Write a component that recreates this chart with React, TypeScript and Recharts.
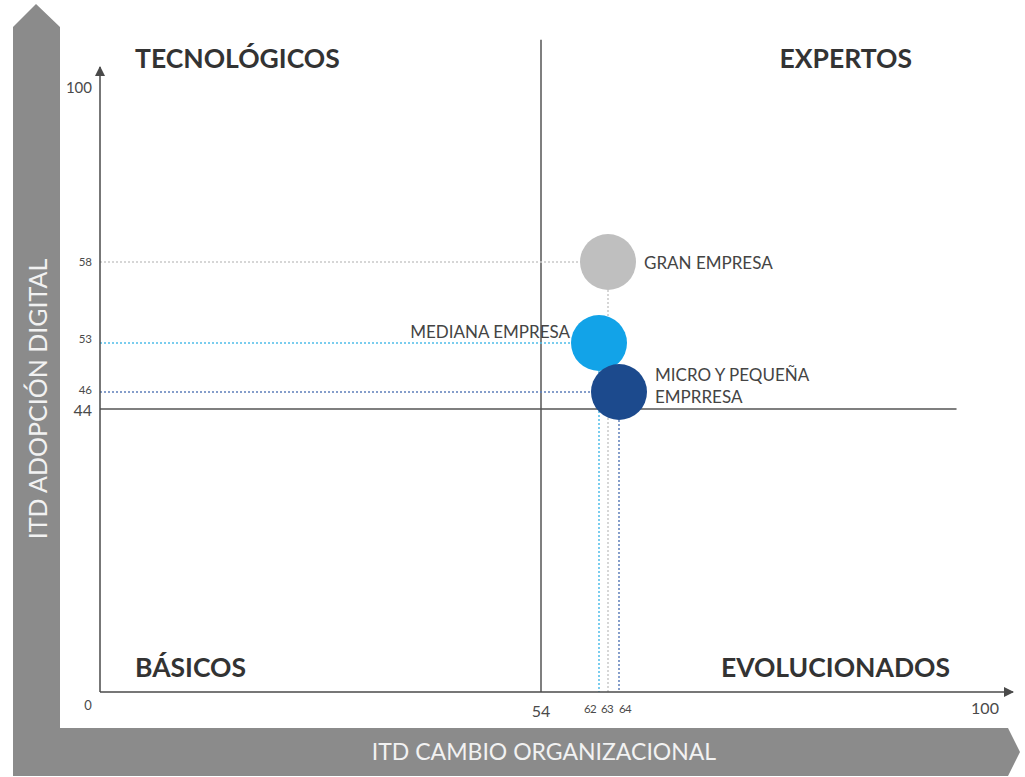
import React from 'react';
import { ScatterChart, Scatter, XAxis, YAxis, ReferenceLine } from 'recharts';

// company segments
const segmentLabels = [['GRAN EMPRESA'], ['MEDIANA EMPRESA'], ['MICRO Y PEQUEÑA', 'EMPRRESA']];
const cambioOrganizacional = [63, 62, 64];
const adopcionDigital = [58, 53, 46];

// axis ticks and quadrant cut-offs
const xTicks = [0, 54, 62, 63, 64, 100];
const yTicks = [44, 46, 53, 58, 100];
const xCut = 54;
const yCut = 44;

const bubbleColors = ['#bfbfbf', '#12a3e8', '#1c4a8d'];
const guideColors = ['#c9c9c9', '#4fbde9', '#5d7fbb'];
const labelSide = ['right', 'left', 'right'];

// the original is a hand-drawn schematic, so the axes are not linear:
// calibration of axis values to pixel positions
const X_KNOTS = [0, 54, 62, 63, 64, 100, 103];
const X_PX = [100, 541, 599, 608, 619, 985, 1013];
const Y_KNOTS = [0, 44, 46, 53, 58, 100, 105];
const Y_PX = [692, 409, 392, 343, 262, 88, 67];

const FONT = 'Lato, "Open Sans", sans-serif';

function piecewiseScale(knots: number[], stops: number[]): any {
  let dom = [knots[0], knots[knots.length - 1]];
  let rng = [0, 1];
  const frac = (v: number) => {
    const n = knots.length;
    let i = 0;
    if (v >= knots[n - 1]) i = n - 2;
    else while (i < n - 2 && v > knots[i + 1]) i++;
    const t = (v - knots[i]) / (knots[i + 1] - knots[i]);
    return stops[i] + t * (stops[i + 1] - stops[i]);
  };
  const scale: any = (v: any) => rng[0] + frac(Number(v)) * (rng[1] - rng[0]);
  scale.domain = (d?: any[]) => {
    if (d === undefined) return dom.slice();
    dom = d.map(Number);
    return scale;
  };
  scale.range = (r?: any[]) => {
    if (r === undefined) return rng.slice();
    rng = r.map(Number);
    return scale;
  };
  scale.copy = () => piecewiseScale(knots, stops).domain(dom).range(rng);
  scale.ticks = () => knots.slice();
  scale.tickFormat = () => (v: any) => String(v);
  scale.nice = () => scale;
  scale.clamp = () => scale;
  return scale;
}

const xScale = piecewiseScale(
  X_KNOTS,
  X_PX.map((p) => (p - X_PX[0]) / (X_PX[X_PX.length - 1] - X_PX[0]))
);
const yScale = piecewiseScale(
  Y_KNOTS,
  Y_PX.map((p) => (Y_PX[0] - p) / (Y_PX[0] - Y_PX[Y_PX.length - 1]))
);

const points = segmentLabels.map((lines, i) => ({
  idx: i,
  lines,
  x: cambioOrganizacional[i],
  y: adopcionDigital[i],
}));

const xTickStyle: Record<number, { size: number; dx: number; dy: number }> = {
  0: { size: 13, dx: -12, dy: 1 },
  54: { size: 16, dx: 0, dy: 6 },
  62: { size: 11.5, dx: -9, dy: 5 },
  63: { size: 11.5, dx: -1, dy: 5 },
  64: { size: 11.5, dx: 6, dy: 5 },
  100: { size: 16, dx: 0, dy: 3 },
};

const yTickStyle: Record<number, { size: number; dy: number }> = {
  44: { size: 16, dy: 1 },
  46: { size: 11.5, dy: -2 },
  53: { size: 11.5, dy: -4 },
  58: { size: 11.5, dy: 0 },
  100: { size: 15, dy: 0 },
};

const XTick = (props: any) => {
  const { x, y, payload } = props;
  const st = xTickStyle[payload.value] || { size: 13, dx: 0, dy: 0 };
  return (
    <text x={x + st.dx} y={y + st.dy} dy="0.71em" textAnchor="middle" fill="#4a4a4a" fontSize={st.size}
      fontFamily={FONT} letterSpacing={st.size < 12 ? -0.6 : 0}>
      {payload.value}
    </text>
  );
};

const YTick = (props: any) => {
  const { x, y, payload } = props;
  const st = yTickStyle[payload.value] || { size: 12, dy: 0 };
  return (
    <text x={x} y={y + st.dy} dy="0.355em" textAnchor="end" fill="#4a4a4a" fontSize={st.size} fontFamily={FONT}>
      {payload.value}
    </text>
  );
};

const Bubble = (props: any) => {
  const { cx, cy, payload } = props;
  const i = payload.idx;
  const r = 28;
  const right = labelSide[i] === 'right';
  const lines: string[] = payload.lines;
  const startY = lines.length > 1 ? cy - 17 : right ? cy + 1 : cy - 11;
  return (
    <g>
      <circle cx={cx} cy={cy} r={r} fill={bubbleColors[i]} />
      {lines.map((t, k) => (
        <text key={k} x={right ? cx + 36 : cx - 29} y={startY + k * 22} dy="0.35em"
          textAnchor={right ? 'start' : 'end'} fill="#444" fontSize={17} fontFamily={FONT}>
          {t}
        </text>
      ))}
    </g>
  );
};

export default function App() {
  return (
    <div style={{ position: 'absolute', left: 0, top: 0, width: 1025, height: 777, background: '#fff' }}>
      <svg width={1025} height={777} style={{ position: 'absolute', left: 0, top: 0 }}>
        <defs>
          <marker id="axisArrow" viewBox="0 0 10 10" refX="9" refY="5" markerWidth="11" markerHeight="10"
            markerUnits="userSpaceOnUse" orient="auto-start-reverse">
            <path d="M0,0 L10,5 L0,10 z" fill="#4a4a4a" />
          </marker>
        </defs>
        <polygon points="13,27 36,4 60,27 60,728 1008,728 1020,752 1008,776 13,776" fill="#8b8b8b" />
        <text x={38} y={399} transform="rotate(-90 38 399)" textAnchor="middle" dy="0.35em" fill="#f2f2f2"
          fontSize={25} fontFamily={FONT}>
          ITD ADOPCIÓN DIGITAL
        </text>
        <text x={544} y={752} textAnchor="middle" dy="0.35em" fill="#f2f2f2" fontSize={23} fontFamily={FONT}>
          ITD CAMBIO ORGANIZACIONAL
        </text>
        <g fill="#333" fontSize={26.5} fontWeight={700} fontFamily={FONT}>
          <text x={135} y={68}>TECNOLÓGICOS</text>
          <text x={912} y={68} textAnchor="end">EXPERTOS</text>
          <text x={135} y={677}>BÁSICOS</text>
          <text x={950} y={677} textAnchor="end">EVOLUCIONADOS</text>
        </g>
      </svg>
      <div style={{ position: 'absolute', left: 0, top: 0 }}>
        <ScatterChart width={1025} height={777} margin={{ top: 67, right: 12, bottom: 45, left: 40 }}>
          <XAxis type="number" dataKey="x" domain={[0, 103]} scale={xScale} ticks={xTicks} interval={0}
            height={40} tickLine={false} tick={<XTick />}
            axisLine={{ stroke: '#4a4a4a', strokeWidth: 1.5, markerEnd: 'url(#axisArrow)' }} />
          <YAxis type="number" dataKey="y" domain={[0, 105]} scale={yScale} ticks={yTicks} interval={0}
            width={60} tickLine={false} tick={<YTick />}
            axisLine={{ stroke: '#4a4a4a', strokeWidth: 1.5, markerStart: 'url(#axisArrow)' }} />
          <ReferenceLine ifOverflow="visible" stroke="#555" strokeWidth={1.5}
            segment={[{ x: xCut, y: 0 }, { x: xCut, y: 111.5 }]} />
          <ReferenceLine ifOverflow="visible" stroke="#555" strokeWidth={1.5}
            segment={[{ x: 0, y: yCut }, { x: 97.2, y: yCut }]} />
          {points.map((p) => (
            <ReferenceLine key={`h${p.idx}`} ifOverflow="visible" stroke={guideColors[p.idx]} strokeWidth={1.5}
              strokeDasharray="2 2" segment={[{ x: 0, y: p.y }, { x: p.x, y: p.y }]} />
          ))}
          {points.map((p) => (
            <ReferenceLine key={`v${p.idx}`} ifOverflow="visible" stroke={guideColors[p.idx]} strokeWidth={1.5}
              strokeDasharray="2 2" segment={[{ x: p.x, y: p.y }, { x: p.x, y: 0 }]} />
          ))}
          {points.map((p) => (
            <Scatter key={p.idx} data={[p]} fill={bubbleColors[p.idx]} shape={Bubble} isAnimationActive={false} />
          ))}
        </ScatterChart>
      </div>
    </div>
  );
}
